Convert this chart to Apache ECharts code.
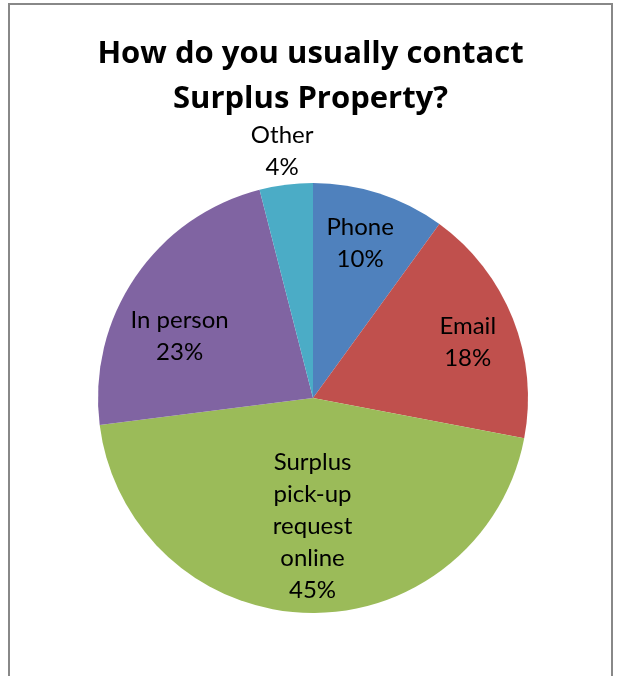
<!DOCTYPE html>
<html>
<head>
<meta charset="utf-8">
<script src="https://cdn.jsdelivr.net/npm/echarts@6/dist/echarts.min.js"></script>
<style>
  html, body { margin: 0; padding: 0; background: #fff; }
  #chart { width: 621px; height: 676px; }
</style>
</head>
<body>
<div id="chart"></div>
<script>
// Survey answers: share of respondents per contact channel (percent)
const categories = ['Phone', 'Email', 'Surplus\npick-up\nrequest\nonline', 'In person', 'Other'];
const shares = [10, 18, 45, 23, 4];
const sliceColors = ['#4F81BD', '#C0504D', '#9BBB59', '#8064A2', '#4BACC6'];
const titleText = 'How do you usually contact\nSurplus Property?';

// Label nudges from the default inside position, per slice
const labelShift = [[13, -50], [52, -15], [3, 18], [-42, 0], [-17, -137]];

const TITLE_FONT = '"Open Sans", Lato, sans-serif';
const LABEL_FONT = 'Lato, "Open Sans", sans-serif';

const chart = echarts.init(document.getElementById('chart'), null, { renderer: 'canvas' });

chart.setOption({
  animation: false,
  backgroundColor: '#ffffff',
  title: {
    text: titleText,
    left: 'center',
    top: 27,
    textStyle: {
      fontFamily: TITLE_FONT,
      fontWeight: 'bold',
      fontSize: 31,
      lineHeight: 45,
      color: '#000'
    }
  },
  graphic: [{
    type: 'rect',
    shape: { x: 9, y: 4, width: 603, height: 700 },
    style: { fill: 'none', stroke: '#888888', lineWidth: 2 },
    silent: true
  }],
  series: [{
    type: 'pie',
    center: [313, 398],
    radius: [0, 215],
    startAngle: 90,
    clockwise: true,
    silent: true,
    data: categories.map((name, i) => ({
      name: name,
      value: shares[i],
      itemStyle: { color: sliceColors[i] }
    })),
    itemStyle: { borderWidth: 0 },
    label: {
      show: true,
      position: 'inside',
      formatter: p => p.name + '\n' + p.value + '%',
      fontFamily: LABEL_FONT,
      fontSize: 24,
      lineHeight: 32,
      color: '#000',
      align: 'center'
    },
    labelLine: { show: false },
    labelLayout: p => ({ dx: labelShift[p.dataIndex][0], dy: labelShift[p.dataIndex][1] })
  }]
});
</script>
</body>
</html>
